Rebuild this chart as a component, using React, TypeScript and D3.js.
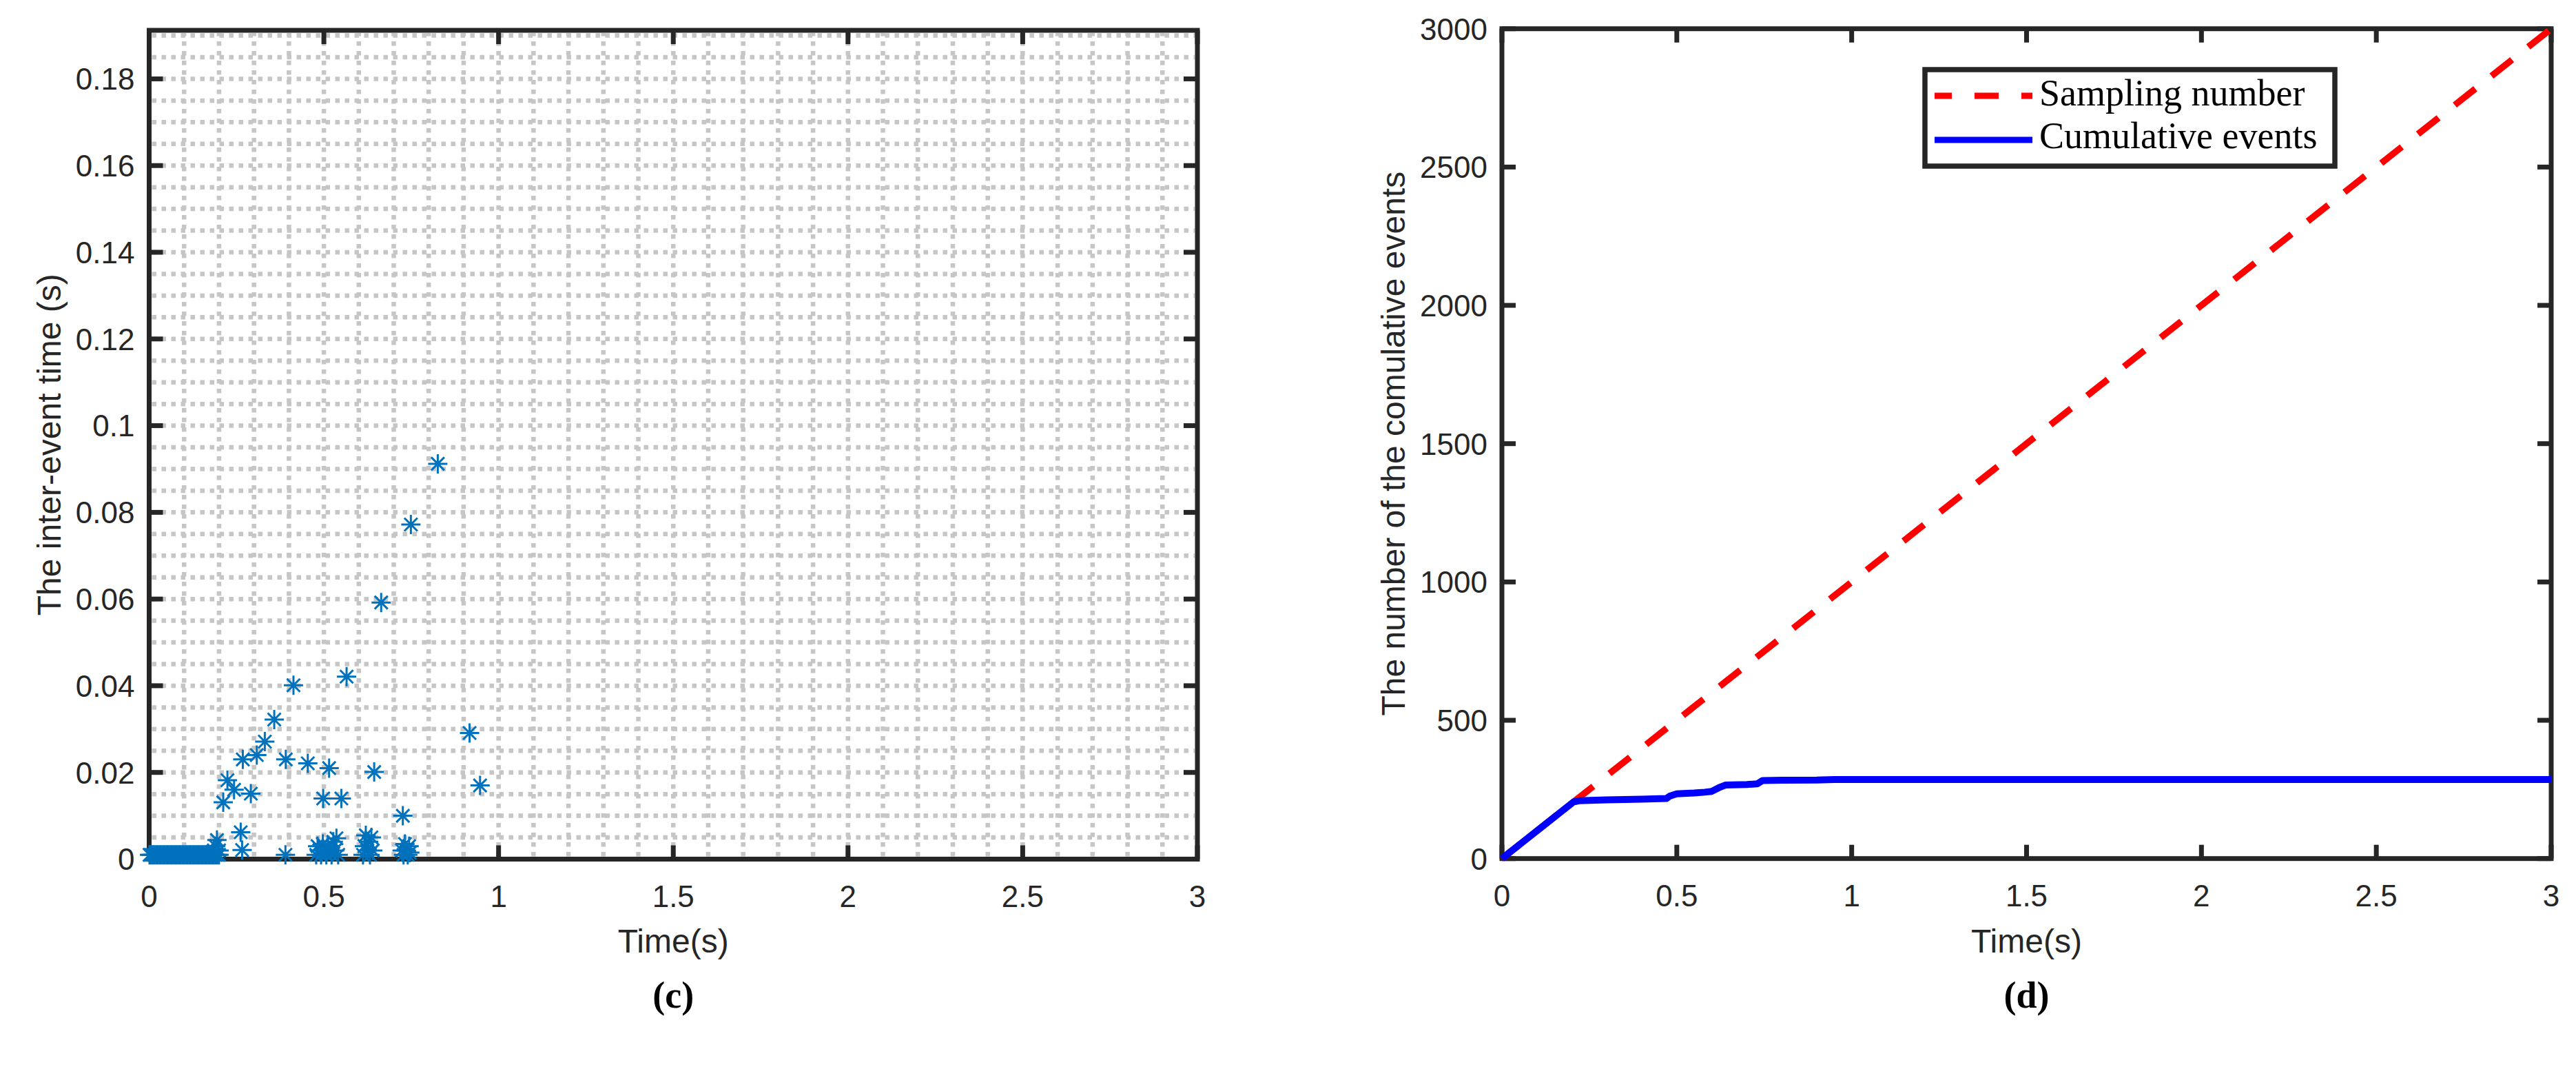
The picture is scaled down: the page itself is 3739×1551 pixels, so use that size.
import * as d3 from 'd3';

const W = 3739;
const H = 1551;
const INK = '#262626';
const GRID = '#c6c6c6';
const STAR = '#0072BD';
const SANS = '"Liberation Sans", Arial, Helvetica, sans-serif';
const SERIF = '"Liberation Serif", "Times New Roman", serif';

const TIME_TICKS = [0, 0.5, 1, 1.5, 2, 2.5, 3];
const TIME_LABELS = ['0', '0.5', '1', '1.5', '2', '2.5', '3'];
const GAP_TICKS = [0, 0.02, 0.04, 0.06, 0.08, 0.1, 0.12, 0.14, 0.16, 0.18];
const GAP_LABELS = ['0', '0.02', '0.04', '0.06', '0.08', '0.1', '0.12', '0.14', '0.16', '0.18'];
const COUNT_TICKS = [0, 500, 1000, 1500, 2000, 2500, 3000];
const COUNT_LABELS = ['0', '500', '1000', '1500', '2000', '2500', '3000'];

// first 0.2 s: an event at (almost) every sample, gap = one sample period
const burstTimes = [
  0.001, 0.005, 0.01, 0.015, 0.02, 0.025, 0.03, 0.035, 0.04, 0.045, 0.05,
  0.055, 0.06, 0.065, 0.07, 0.075, 0.08, 0.085, 0.09, 0.095, 0.1, 0.105,
  0.11, 0.115, 0.12, 0.125, 0.13, 0.135, 0.14, 0.145, 0.15, 0.155, 0.16,
  0.165, 0.17, 0.175, 0.18, 0.185, 0.19, 0.195, 0.2,
];
const BURST_GAP = 0.001;

// [event time (s), inter-event time (s)]
const spreadEvents: [number, number][] = [
  [0.185, 0.002], [0.19, 0.003], [0.194, 0.0044], [0.2, 0.002],
  [0.212, 0.0131], [0.224, 0.0182], [0.243, 0.016], [0.262, 0.0062],
  [0.266, 0.0021], [0.268, 0.023], [0.291, 0.0151], [0.308, 0.024],
  [0.331, 0.0271], [0.358, 0.0322], [0.39, 0.001], [0.391, 0.023],
  [0.413, 0.0401], [0.454, 0.0221], [0.498, 0.014], [0.515, 0.021],
  [0.55, 0.014], [0.565, 0.0421], [0.644, 0.0201], [0.664, 0.0592],
  [0.726, 0.01], [0.749, 0.0772], [0.826, 0.0912], [0.917, 0.0291],
  [0.947, 0.017],
  [0.478, 0.001], [0.482, 0.003], [0.487, 0.002], [0.492, 0.001],
  [0.497, 0.0035], [0.502, 0.002], [0.507, 0.001], [0.512, 0.003],
  [0.517, 0.002], [0.522, 0.001], [0.527, 0.004], [0.531, 0.002],
  [0.536, 0.0048], [0.541, 0.001],
  [0.612, 0.001], [0.616, 0.003], [0.62, 0.0055], [0.624, 0.002],
  [0.628, 0.004], [0.632, 0.001], [0.636, 0.005], [0.64, 0.002],
  [0.724, 0.002], [0.728, 0.001], [0.732, 0.0035], [0.736, 0.002],
  [0.74, 0.001], [0.744, 0.003], [0.746, 0.0015],
];

const sampleT = [0, 3];
const sampleN = [0, 3000];

const cumT = [0, 0.205, 0.22, 0.3, 0.4, 0.47, 0.48, 0.5, 0.55, 0.58, 0.6, 0.62, 0.64, 0.7, 0.73, 0.745, 0.8, 0.9, 0.95, 3];
const cumN = [0, 205, 209, 212, 215, 217, 226, 234, 237, 240, 243, 256, 266, 268, 270, 282, 283, 284, 286, 286];

const LEGEND = ['Sampling number', 'Cumulative events'];

const STAR_PATH = 'M0,-14V14M-14,0H14M-9.5,-9.5L9.5,9.5M-9.5,9.5L9.5,-9.5';

function Frame({ x, y, xTicks, xLabels, yTicks, yLabels, xTitle, yTitle, caption }) {
  const [x0, x1] = x.range();
  const [y0, y1] = y.range();
  const tl = 20;
  const yLabelWidth = d3.max(yLabels, (s) => s.length * 0.556 * 44 - (s.includes('.') ? 0.278 * 44 : 0));
  return (
    <g>
      <rect x={x0} y={y1} width={x1 - x0} height={y0 - y1} fill="none" stroke={INK} strokeWidth={7} />
      {xTicks.map((t, i) => (
        <g key={`x${i}`}>
          <line x1={x(t)} x2={x(t)} y1={y0} y2={y0 - tl} stroke={INK} strokeWidth={7} />
          <line x1={x(t)} x2={x(t)} y1={y1} y2={y1 + tl} stroke={INK} strokeWidth={7} />
          <text x={x(t)} y={y0 + 69} textAnchor="middle" fontSize={44} fontFamily={SANS} fill={INK}>
            {xLabels[i]}
          </text>
        </g>
      ))}
      {yTicks.map((t, i) => (
        <g key={`y${i}`}>
          <line x1={x0} x2={x0 + tl} y1={y(t)} y2={y(t)} stroke={INK} strokeWidth={7} />
          <line x1={x1} x2={x1 - tl} y1={y(t)} y2={y(t)} stroke={INK} strokeWidth={7} />
          <text x={x0 - 21} y={y(t)} dy="0.36em" textAnchor="end" fontSize={44} fontFamily={SANS} fill={INK}>
            {yLabels[i]}
          </text>
        </g>
      ))}
      <text x={(x0 + x1) / 2} y={1382} textAnchor="middle" fontSize={48} fontFamily={SANS} fill={INK}>
        {xTitle}
      </text>
      <text
        transform={`translate(${x0 - 21 - yLabelWidth - 22},${(y0 + y1) / 2}) rotate(-90)`}
        textAnchor="middle"
        fontSize={48}
        fontFamily={SANS}
        fill={INK}
      >
        {yTitle}
      </text>
      <text x={(x0 + x1) / 2} y={1462} textAnchor="middle" fontSize={54} fontWeight="bold" fontFamily={SERIF} fill="#000">
        {caption}
      </text>
    </g>
  );
}

function GapPanel() {
  const x = d3.scaleLinear().domain([0, 3]).range([216.5, 1738]);
  const y = d3.scaleLinear().domain([0, 0.1912]).range([1246.5, 44]);
  const rows = d3.range(0.005, 0.1911, 0.005);
  const cols = d3.range(0.1, 2.95, 0.1);
  const pts: [number, number][] = [
    ...burstTimes.map((t) => [t, BURST_GAP] as [number, number]),
    ...spreadEvents,
  ];
  return (
    <g>
      <g stroke={GRID} strokeWidth={6.5} strokeDasharray="6.5 7.5">
        {rows.map((v, i) => (
          <line key={`r${i}`} x1={x(0) + 4} x2={x(3) - 4} y1={y(v)} y2={y(v)} />
        ))}
        {cols.map((t, i) => (
          <line key={`c${i}`} x1={x(t)} x2={x(t)} y1={y(0) - 4} y2={y.range()[1] + 4} />
        ))}
      </g>
      <Frame
        x={x}
        y={y}
        xTicks={TIME_TICKS}
        xLabels={TIME_LABELS}
        yTicks={GAP_TICKS}
        yLabels={GAP_LABELS}
        xTitle="Time(s)"
        yTitle="The inter-event time (s)"
        caption="(c)"
      />
      <g stroke={STAR} strokeWidth={3} fill="none">
        {pts.map(([t, v], i) => (
          <path key={i} d={STAR_PATH} transform={`translate(${x(t)},${y(v)})`} />
        ))}
      </g>
    </g>
  );
}

function CountPanel() {
  const x = d3.scaleLinear().domain([0, 3]).range([2180, 3703]);
  const y = d3.scaleLinear().domain([0, 3000]).range([1245.7, 41.7]);
  const line = d3
    .line<number>()
    .x((_, i) => x(cumT[i]))
    .y((d) => y(d));
  const sampleLine = d3
    .line<number>()
    .x((_, i) => x(sampleT[i]))
    .y((d) => y(d));
  const lx = 2794;
  const ly = 101;
  return (
    <g>
      <Frame
        x={x}
        y={y}
        xTicks={TIME_TICKS}
        xLabels={TIME_LABELS}
        yTicks={COUNT_TICKS}
        yLabels={COUNT_LABELS}
        xTitle="Time(s)"
        yTitle="The number of the comulative events"
        caption="(d)"
      />
      <path d={sampleLine(sampleN) ?? ''} fill="none" stroke="#ff0000" strokeWidth={9.5} strokeDasharray="38 30" strokeDashoffset={5} />
      <path d={line(cumN) ?? ''} fill="none" stroke="#0000ff" strokeWidth={10} strokeLinejoin="round" />
      <rect x={lx} y={ly} width={595} height={140} fill="#fff" stroke={INK} strokeWidth={7.5} />
      <line x1={lx + 14} x2={lx + 156} y1={139} y2={139} stroke="#ff0000" strokeWidth={9} strokeDasharray="35 33" strokeDashoffset={10} />
      <line x1={lx + 14} x2={lx + 156} y1={203} y2={203} stroke="#0000ff" strokeWidth={9} />
      <text x={lx + 166} y={153} fontSize={54} fontFamily={SERIF} fill="#000">
        {LEGEND[0]}
      </text>
      <text x={lx + 166} y={215} fontSize={54} fontFamily={SERIF} fill="#000">
        {LEGEND[1]}
      </text>
    </g>
  );
}

export default function App() {
  return (
    <svg
      width={W}
      height={H}
      viewBox={`0 0 ${W} ${H}`}
      style={{ position: 'absolute', left: 0, top: 0, background: '#fff' }}
    >
      <rect width={W} height={H} fill="#fff" />
      <GapPanel />
      <CountPanel />
    </svg>
  );
}
